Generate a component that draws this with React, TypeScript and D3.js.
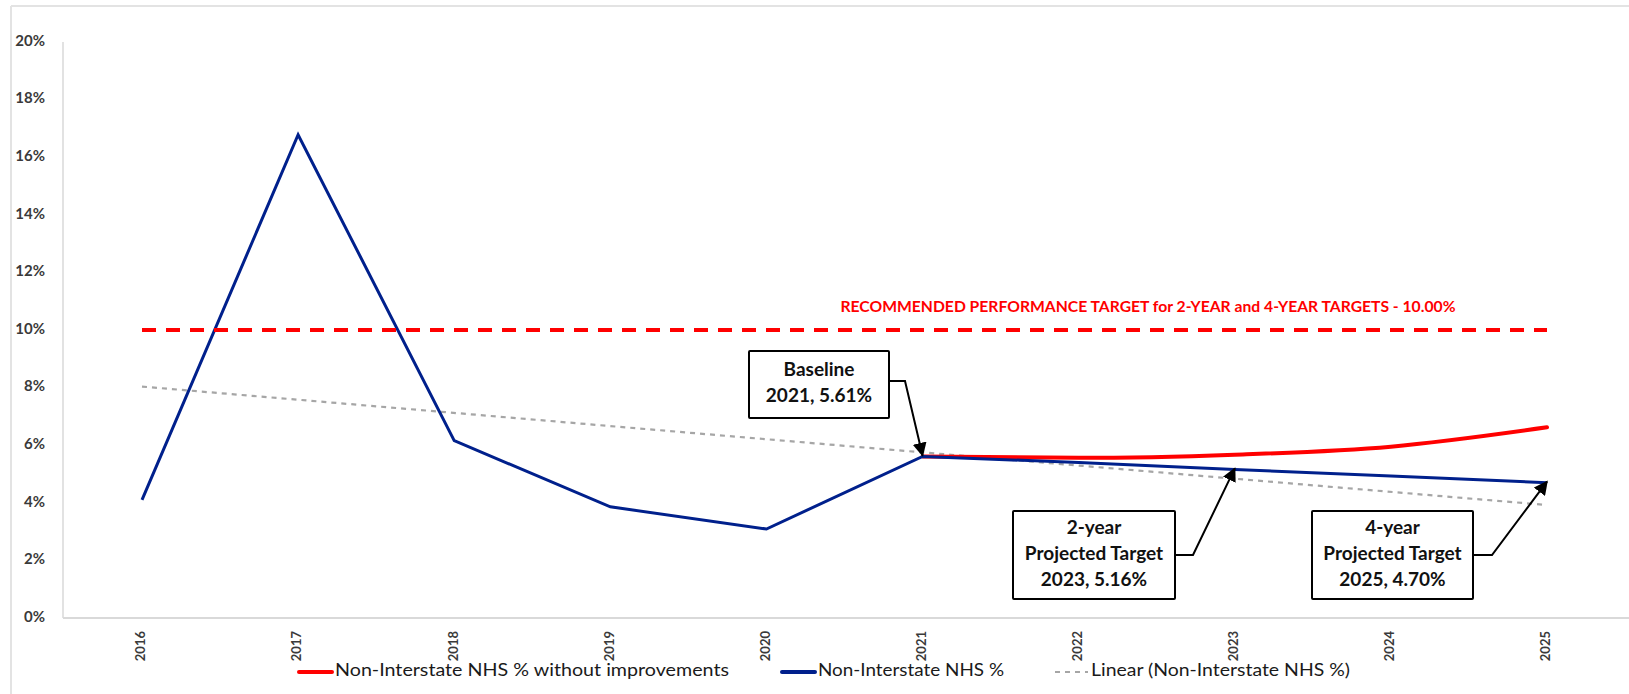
import React from "react";
import * as d3 from "d3";

const years = ["2016", "2017", "2018", "2019", "2020", "2021", "2022", "2023", "2024", "2025"];
const nhsPct = [4.1, 16.78, 6.16, 3.86, 3.09, 5.61, 5.4, 5.16, 4.93, 4.7];
const withoutYears = ["2021", "2022", "2023", "2024", "2025"];
const withoutPct = [5.61, 5.56, 5.67, 5.95, 6.62];
const targetPct = 10;
const yTicks = [0, 2, 4, 6, 8, 10, 12, 14, 16, 18, 20];
const targetLabel = "RECOMMENDED PERFORMANCE TARGET for 2-YEAR and 4-YEAR TARGETS - 10.00%";
const callouts = [
  { year: "2021", value: 5.61, lines: ["Baseline", "2021, 5.61%"] },
  { year: "2023", value: 5.16, lines: ["2-year", "Projected Target", "2023, 5.16%"] },
  { year: "2025", value: 4.7, lines: ["4-year", "Projected Target", "2025, 4.70%"] },
];
const legendItems = [
  { label: "Non-Interstate NHS % without improvements", kind: "red" },
  { label: "Non-Interstate NHS %", kind: "blue" },
  { label: "Linear (Non-Interstate NHS %)", kind: "trend" },
];

const W = 1629;
const H = 694;
const FONT = "Lato, 'Open Sans', sans-serif";
const RED = "#ff0000";
const BLUE = "#00208c";
const GRAY = "#a6a6a6";

export default function App() {
  const x = d3.scalePoint<string>().domain(years).range([142, 1547]);
  const y = d3.scaleLinear().domain([0, 20]).range([618, 42]);

  const line = d3
    .line<[string, number]>()
    .x((d) => x(d[0]) as number)
    .y((d) => y(d[1]));
  const smooth = d3
    .line<[string, number]>()
    .x((d) => x(d[0]) as number)
    .y((d) => y(d[1]))
    .curve(d3.curveMonotoneX);

  const bluePts = years.map((yr, i) => [yr, nhsPct[i]] as [string, number]);
  const redPts = withoutYears.map((yr, i) => [yr, withoutPct[i]] as [string, number]);

  // least-squares linear trend of the blue series (Excel "Linear" trendline)
  const idx = nhsPct.map((_, i) => i);
  const mx = d3.mean(idx) as number;
  const my = d3.mean(nhsPct) as number;
  const sxy = d3.sum(idx, (i) => (i - mx) * (nhsPct[i] - my));
  const sxx = d3.sum(idx, (i) => (i - mx) * (i - mx));
  const slope = sxy / sxx;
  const icpt = my - slope * mx;
  const trendPts: [string, number][] = [
    [years[0], icpt],
    [years[years.length - 1], icpt + slope * (years.length - 1)],
  ];

  const boxes = [
    { x0: 749, y0: 351, w: 140, h: 67, elbowX: 905 },
    { x0: 1013, y0: 511, w: 162, h: 88, elbowX: 1193 },
    { x0: 1312, y0: 511, w: 161, h: 88, elbowX: 1492 },
  ];

  const legendLayout = [
    { lx: 299, tx: 335, tl: 394 },
    { lx: 782, tx: 818, tl: 186 },
    { lx: 1055, tx: 1091, tl: 259 },
  ];

  return (
    <svg
      width={W}
      height={H}
      style={{ position: "absolute", left: 0, top: 0, background: "#fff" }}
      fontFamily={FONT}
    >
      <defs>
        <marker id="arr" viewBox="0 0 10 10" refX="9" refY="5" markerWidth="7" markerHeight="7" orient="auto">
          <path d="M0,0 L10,5 L0,10 z" fill="#000" />
        </marker>
      </defs>
      <line x1={11} x2={W} y1={6} y2={6} stroke="#e3e3e3" strokeWidth={2} />
      <line x1={11} x2={11} y1={6} y2={H} stroke="#e3e3e3" strokeWidth={2} />

      <line x1={63} x2={63} y1={y(20)} y2={y(0)} stroke="#d9d9d9" strokeWidth={1.5} />
      <line x1={63} x2={W} y1={y(0)} y2={y(0)} stroke="#d9d9d9" strokeWidth={2} />

      {yTicks.map((t) => (
        <text
          key={t}
          x={45}
          y={y(t)}
          textAnchor="end"
          dominantBaseline="middle"
          fontSize={15}
          fontWeight={700}
          fill="#3a3a3a"
        >
          {t}%
        </text>
      ))}

      {years.map((yr) => (
        <text
          key={yr}
          transform={`translate(${x(yr)},631) rotate(-90)`}
          textAnchor="end"
          dominantBaseline="middle"
          fontSize={13}
          fontWeight={700}
          fill="#3a3a3a"
        >
          {yr}
        </text>
      ))}

      <path d={line(trendPts) as string} fill="none" stroke={GRAY} strokeWidth={2.2} strokeDasharray="5 5" />

      <path d={smooth(redPts) as string} fill="none" stroke={RED} strokeWidth={4} strokeLinecap="round" />
      <path d={line(bluePts) as string} fill="none" stroke={BLUE} strokeWidth={3} />

      <line
        x1={x(years[0])}
        x2={x(years[years.length - 1])}
        y1={y(targetPct)}
        y2={y(targetPct)}
        stroke={RED}
        strokeWidth={4}
        strokeDasharray="14 10"
      />
      <text
        x={1148}
        y={y(targetPct) - 22}
        textAnchor="middle"
        dominantBaseline="middle"
        fontSize={15}
        fontWeight={700}
        fill={RED}
        textLength={615}
        lengthAdjust="spacingAndGlyphs"
      >
        {targetLabel}
      </text>

      {callouts.map((c, i) => {
        const b = boxes[i];
        const tipX = x(c.year) as number;
        const tipY = y(c.value) - 1;
        const n = c.lines.length;
        const midY = b.y0 + (i === 0 ? 30 : b.h / 2);
        const lh = 26;
        const cx = b.x0 + b.w / 2;
        const ty0 = b.y0 + b.h / 2 - ((n - 1) * lh) / 2;
        return (
          <g key={c.year}>
            <rect x={b.x0} y={b.y0} width={b.w} height={b.h} fill="#fff" stroke="#000" strokeWidth={2} rx={1} />
            {c.lines.map((t, j) => (
              <text
                key={j}
                x={cx}
                y={ty0 + j * lh}
                textAnchor="middle"
                dominantBaseline="middle"
                fontSize={19}
                fontWeight={700}
                fill="#111"
              >
                {t}
              </text>
            ))}
            <polyline
              points={`${b.x0 + b.w},${midY} ${b.elbowX},${midY} ${tipX},${tipY}`}
              fill="none"
              stroke="#000"
              strokeWidth={2}
              markerEnd="url(#arr)"
            />
          </g>
        );
      })}

      {legendItems.map((it, i) => {
        const L = legendLayout[i];
        const ly = 672;
        return (
          <g key={it.label}>
            {it.kind === "trend" ? (
              <line x1={L.lx} x2={L.lx + 33} y1={ly} y2={ly} stroke={GRAY} strokeWidth={2} strokeDasharray="5 5" />
            ) : (
              <line
                x1={L.lx}
                x2={L.lx + 33}
                y1={ly}
                y2={ly}
                stroke={it.kind === "red" ? RED : BLUE}
                strokeWidth={4}
                strokeLinecap="round"
              />
            )}
            <text
              x={L.tx}
              y={ly}
              dominantBaseline="middle"
              fontSize={17}
              fill="#1a1a1a"
              textLength={L.tl}
              lengthAdjust="spacingAndGlyphs"
            >
              {it.label}
            </text>
          </g>
        );
      })}
    </svg>
  );
}
